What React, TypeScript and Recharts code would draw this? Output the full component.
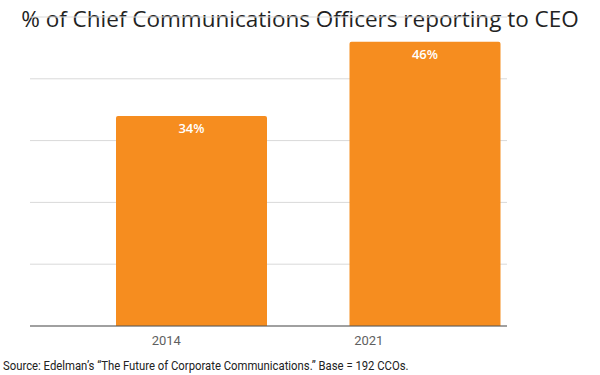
import React from "react";
import { BarChart, Bar, XAxis, YAxis, CartesianGrid, LabelList } from "recharts";

// Chart data
const years = ["2014", "2021"];
const shareReportingToCeo = [34, 46];
const yTicks = [0, 10, 20, 30, 40];

const data = years.map((year, i) => ({ year, value: shareReportingToCeo[i] }));

const ORANGE = "#F68D1F";

export default function App() {
  return (
    <div style={{ position: "absolute", left: 0, top: 0, width: 600, height: 375, background: "#fff", overflow: "hidden" }}>
      {/* Title */}
      <div
        style={{
          position: "absolute",
          left: 0,
          width: 600,
          top: 4,
          textAlign: "center",
          fontFamily: "'Open Sans', sans-serif",
          fontSize: 22.5,
          lineHeight: "30px",
          color: "#222",
          whiteSpace: "nowrap",
        }}
      >
        % of Chief Communications Officers reporting to CEO
      </div>

      <div style={{ position: "absolute", left: 0, top: 0 }}>
        <BarChart width={600} height={375} data={data} margin={{ top: 17, right: 93, left: 30, bottom: 0 }}>
          <CartesianGrid horizontal vertical={false} stroke="#d9d9d9" />
          <YAxis hide domain={[0, 50]} ticks={yTicks} />
          <XAxis xAxisId="bars" dataKey="year" hide height={0} padding={{ left: 45, right: -35 }} />
          <XAxis
            xAxisId="labels"
            dataKey="year"
            height={49}
            padding={{ left: 35, right: 37 }}
            axisLine={{ stroke: "#555", strokeWidth: 1 }}
            tickLine={false}
            tick={{ fill: "#5f5f5f", fontSize: 13, fontFamily: "Roboto, sans-serif" }}
            dy={2}
          />
          <Bar xAxisId="bars" dataKey="value" fill={ORANGE} barSize={151} radius={[2, 2, 0, 0]} isAnimationActive={false}>
            <LabelList
              dataKey="value"
              position="insideTop"
              offset={8}
              formatter={(v: any) => `${v}%`}
              style={{ fill: "#fff", fontSize: 13, fontWeight: 600, fontFamily: "'Open Sans', sans-serif" }}
            />
          </Bar>
        </BarChart>
      </div>

      {/* Source note */}
      <div
        style={{
          position: "absolute",
          left: 3,
          top: 358,
          fontFamily: "Roboto, sans-serif",
          fontSize: 13,
          lineHeight: "16px",
          color: "#222",
          whiteSpace: "nowrap",
          transform: "scaleX(0.87)",
          transformOrigin: "left center",
        }}
      >
        Source: Edelman’s “The Future of Corporate Communications.” Base = 192 CCOs.
      </div>
    </div>
  );
}
